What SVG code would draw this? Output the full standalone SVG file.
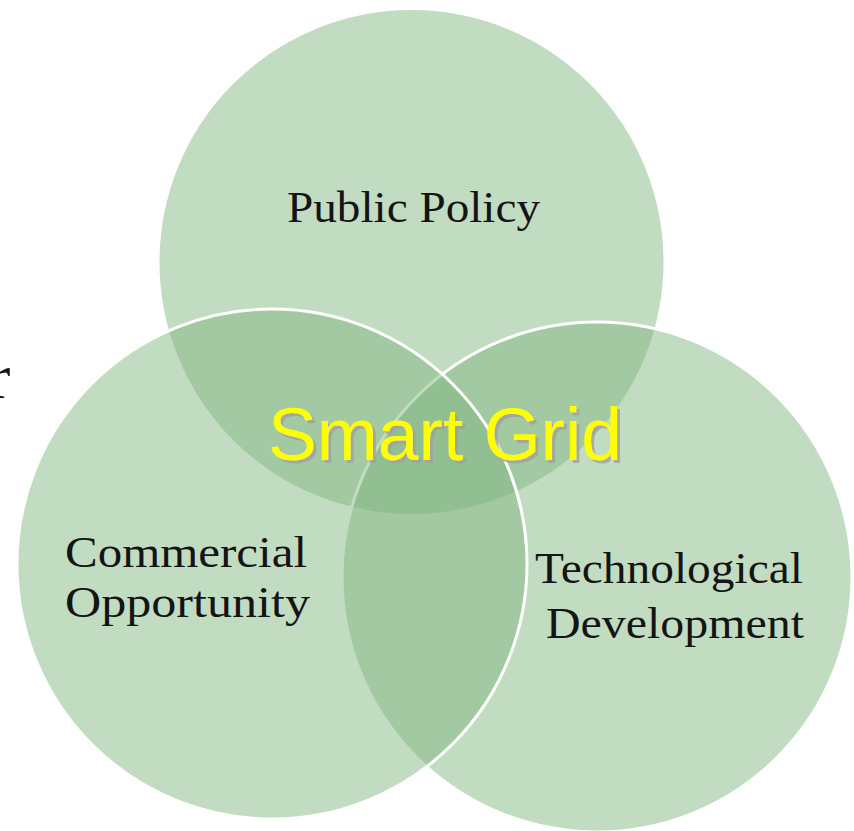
<svg xmlns="http://www.w3.org/2000/svg" width="854" height="831" viewBox="0 0 854 831">
<style>
.c{fill:#7eb47e;fill-opacity:0.47;stroke:#fff;stroke-width:3}
.lbl{font-family:"Liberation Serif","Times New Roman",serif;font-size:45px;fill:#141414}
.sg{font-family:"Liberation Sans",Arial,sans-serif;font-size:74px;fill:#ffff00}
</style>
<defs>
<filter id="shadow" x="-5%" y="-20%" width="115%" height="150%">
<feOffset in="SourceAlpha" dx="2.5" dy="2.5" result="o"/>
<feFlood flood-color="#a0a0a0" flood-opacity="0.8"/>
<feComposite in2="o" operator="in" result="s"/>
<feMerge><feMergeNode in="s"/><feMergeNode in="SourceGraphic"/></feMerge>
</filter>
</defs>
<rect width="854" height="831" fill="#fff"/>
<g id="public-policy">
<circle class="c" cx="411.5" cy="262" r="253.5"/>
<text class="lbl" x="287" y="222" textLength="253" lengthAdjust="spacingAndGlyphs">Public Policy</text>
</g>
<g id="technological-development">
<circle class="c" cx="597" cy="577" r="255"/>
<text class="lbl" x="535" y="583" textLength="268" lengthAdjust="spacingAndGlyphs">Technological</text>
<text class="lbl" x="546" y="638" textLength="258" lengthAdjust="spacingAndGlyphs">Development</text>
</g>
<g id="commercial-opportunity">
<circle class="c" cx="272" cy="564" r="255"/>
<text class="lbl" x="65" y="567" textLength="242" lengthAdjust="spacingAndGlyphs">Commercial</text>
<text class="lbl" x="65" y="617" textLength="245" lengthAdjust="spacingAndGlyphs">Opportunity</text>
</g>
<g id="smart-grid">
<text class="sg" x="268" y="460" textLength="354" lengthAdjust="spacingAndGlyphs" filter="url(#shadow)">Smart Grid</text>
</g>
<text class="lbl" x="-11" y="398" style="font-size:64px">r</text>
<g id="connectors"/>
</svg>
